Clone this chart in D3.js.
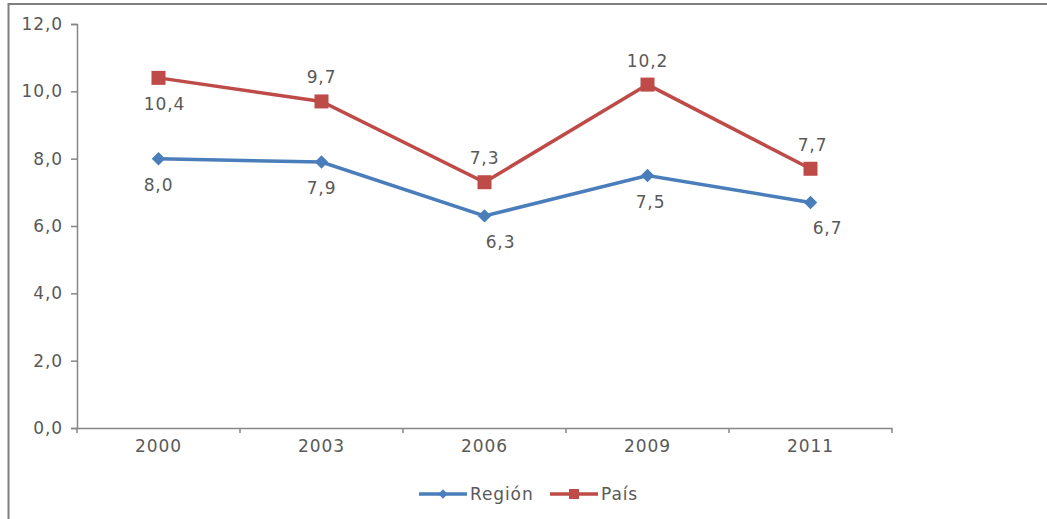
<!DOCTYPE html>
<html><head><meta charset="utf-8">
<script src="https://cdn.jsdelivr.net/npm/d3@7"></script>
<style>
body{margin:0;background:#fff;}
text{font-family:"DejaVu Sans",Verdana,sans-serif;fill:#595959;letter-spacing:0.9px;}
</style></head>
<body><svg id="c" width="1047" height="519"></svg>
<script>
const years = ["2000","2003","2006","2009","2011"];
const region = [8.0, 7.9, 6.3, 7.5, 6.7];
const pais = [10.4, 9.7, 7.3, 10.2, 7.7];
const yTicks = [0,2,4,6,8,10,12];
const seriesNames = ["Región","País"];
// label placement: +1 below, -1 above
const regionLabelSide = [1,1,1,1,1];
const paisLabelSide = [1,-1,-1,-1,-1];
const regionLabelDx = [0,0,16,3,17];
const paisLabelDx = [6,0,0,0,2];

const svg = d3.select("#c");
const W=1047,H=519;
const m={left:77,right:155,top:24,bottom:91};
const x = d3.scaleBand().domain(years).range([m.left, W-m.right]);
const y = d3.scaleLinear().domain([0,12]).range([H-m.bottom, m.top]);
const fmt = v => d3.format(".1f")(v).replace(".",",");
const fs = 17;

// frame
svg.append("path").attr("d",`M8.5,${H} V4 H${W}`).attr("fill","none").attr("stroke","#7f7f7f").attr("stroke-width",2);

// y axis
const ya = svg.append("g").attr("transform",`translate(${m.left},0)`)
  .call(d3.axisLeft(y).tickValues(yTicks).tickSize(6).tickPadding(8).tickFormat(fmt));
ya.select(".domain").attr("stroke","#868686").attr("stroke-width",1.5);
ya.selectAll(".tick line").attr("stroke","#868686").attr("stroke-width",1.5);
ya.selectAll("text").style("font-size",fs+"px").attr("fill","#595959").attr("font-family",null);

// x axis
const xa = svg.append("g").attr("transform",`translate(0,${y(0)})`)
  .call(d3.axisBottom(x).tickSize(0).tickPadding(12));
xa.select(".domain").attr("stroke","#868686").attr("stroke-width",1.5);
xa.selectAll("text").style("font-size",fs+"px").attr("fill","#595959").attr("font-family",null);
const edges = years.map(d=>x(d)).concat([x(years[years.length-1])+x.bandwidth()]);
svg.append("g").selectAll("line").data(edges).join("line")
  .attr("x1",d=>d).attr("x2",d=>d).attr("y1",y(0)).attr("y2",y(0)+5)
  .attr("stroke","#868686").attr("stroke-width",1.5);

const cx = d => x(d)+x.bandwidth()/2;
const line = d3.line().x((d,i)=>cx(years[i])).y(d=>y(d));
const colR = "#4a7ebb", colP = "#be4b48";

svg.append("path").datum(region).attr("d",line).attr("fill","none").attr("stroke",colR).attr("stroke-width",3.5);
svg.append("path").datum(pais).attr("d",line).attr("fill","none").attr("stroke",colP).attr("stroke-width",3.5);

const diamond = d3.symbol().type(d3.symbolDiamond2).size(115);
svg.append("g").selectAll("path").data(region).join("path")
  .attr("d",diamond).attr("transform",(d,i)=>`translate(${cx(years[i])},${y(d)})`).attr("fill",colR);
svg.append("g").selectAll("rect").data(pais).join("rect")
  .attr("x",(d,i)=>cx(years[i])-7).attr("y",d=>y(d)-7).attr("width",14).attr("height",14).attr("fill",colP);

// labels
function labels(data, side, dxs){
  svg.append("g").selectAll("text").data(data).join("text")
   .attr("x",(d,i)=>cx(years[i])+dxs[i])
   .attr("y",(d,i)=>y(d)+(side[i]>0?32:-18))
   .attr("text-anchor","middle").style("font-size",fs+"px").text(d=>fmt(d));
}
labels(region, regionLabelSide, regionLabelDx);
labels(pais, paisLabelSide, paisLabelDx);

// legend
const lg = svg.append("g");
const ly = 494;
const items = [{n:seriesNames[0],c:colR,x:419,t:"d"},{n:seriesNames[1],c:colP,x:550,t:"s"}];
items.forEach(it=>{
  lg.append("line").attr("x1",it.x).attr("x2",it.x+48).attr("y1",ly).attr("y2",ly).attr("stroke",it.c).attr("stroke-width",3.5);
  if(it.t==="d") lg.append("path").attr("d",d3.symbol().type(d3.symbolDiamond2).size(55)).attr("transform",`translate(${it.x+24},${ly})`).attr("fill",it.c);
  else lg.append("rect").attr("x",it.x+24-5).attr("y",ly-5).attr("width",10).attr("height",10).attr("fill",it.c);
  lg.append("text").attr("x",it.x+51).attr("y",ly+6).style("font-size",fs+"px").text(it.n);
});
</script></body></html>
